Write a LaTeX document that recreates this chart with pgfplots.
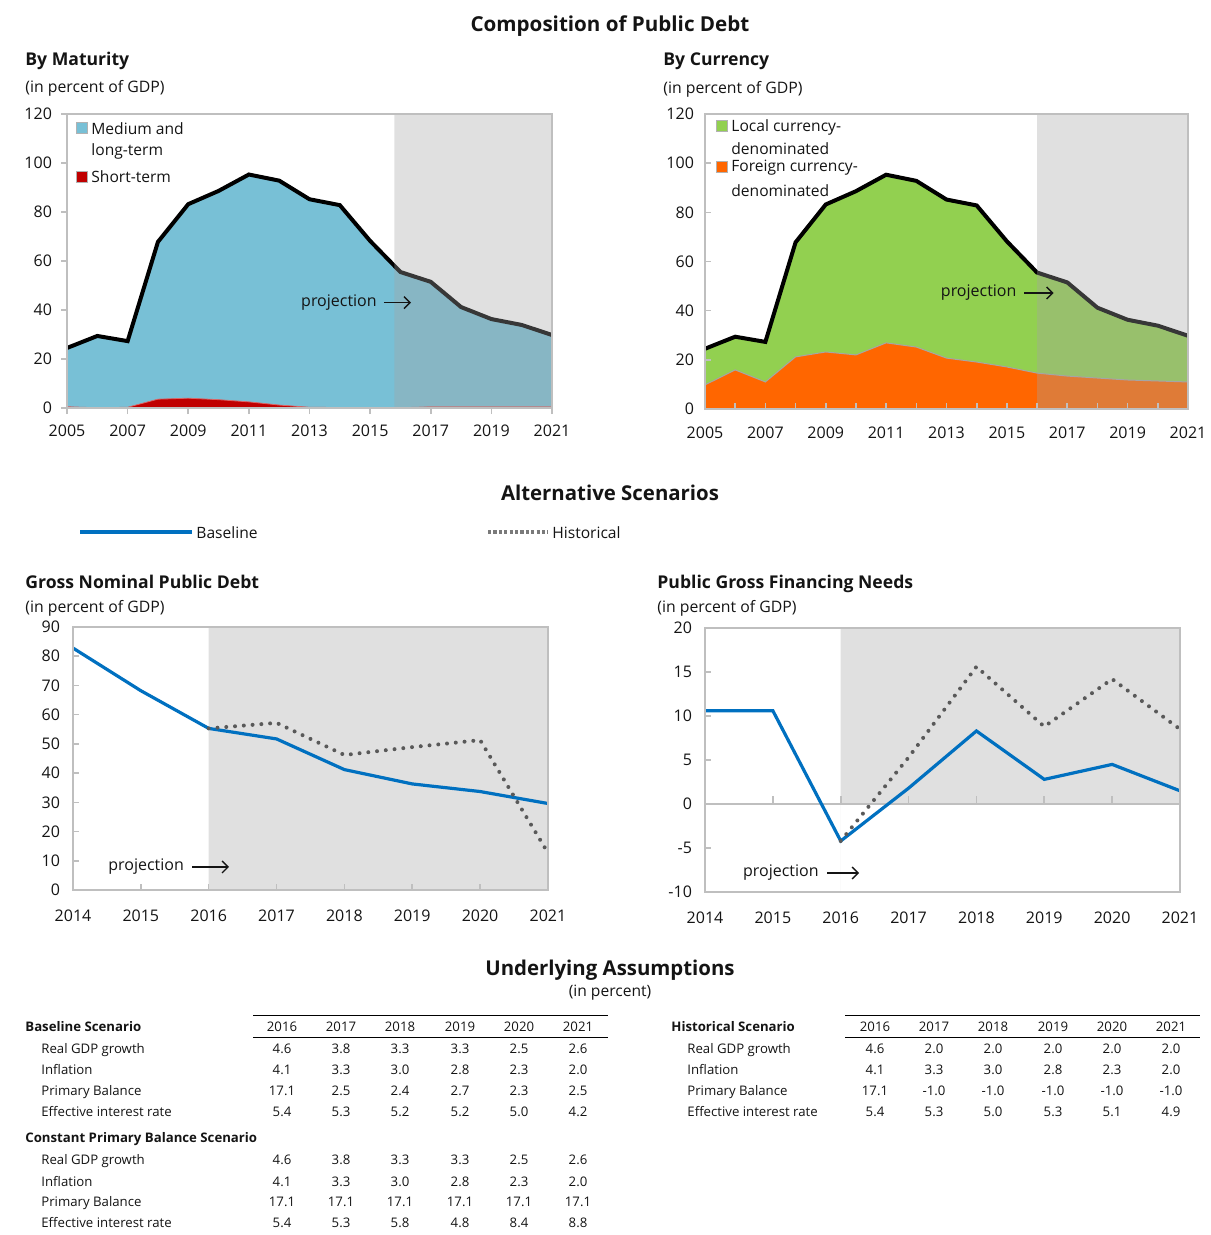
\documentclass[border=0pt]{standalone}
\usepackage{pgfplots}
\pgfplotsset{compat=1.18}
\usepackage{fontspec}
\setmainfont{Open Sans}
\usetikzlibrary{arrows.meta}

\definecolor{mlblue}{RGB}{120,192,214}
\definecolor{stred}{RGB}{192,0,0}
\definecolor{lcgreen}{RGB}{146,208,80}
\definecolor{fcorange}{RGB}{255,102,0}
\definecolor{ovgray}{RGB}{164,164,164}
\definecolor{projgray}{RGB}{224,224,224}
\definecolor{axgray}{RGB}{191,191,191}
\definecolor{baseblue}{RGB}{0,112,192}
\definecolor{histgray}{RGB}{89,89,89}
\definecolor{txt}{RGB}{20,20,20}

\pgfplotsset{
  myaxis/.style={
    scale only axis, anchor=south west,
    axis line style={draw=axgray, line width=1pt},
    tick style={draw=axgray, line width=0.8pt},
    major tick length=3pt,
    ticklabel style={font=\fontsize{8}{9}\selectfont, text=txt},
    /pgf/number format/assume math mode=true,
    /pgf/number format/1000 sep={},
    xtick pos=bottom, ytick pos=left,
    axis on top,
    clip=true,
  },
}
\newcommand\tf{\fontsize{6.6}{7.5}\selectfont}
\newcommand\lx{41}
\newcommand\cx{0}
\newcommand\trow[8]{%
  \node[anchor=base west, font=\tf, inner sep=0pt] at (\lx,#1) {#2};
  \node[anchor=base, font=\tf, inner sep=0pt] at ({\cx+282},#1) {#3};
  \node[anchor=base, font=\tf, inner sep=0pt] at ({\cx+341},#1) {#4};
  \node[anchor=base, font=\tf, inner sep=0pt] at ({\cx+400},#1) {#5};
  \node[anchor=base, font=\tf, inner sep=0pt] at ({\cx+460},#1) {#6};
  \node[anchor=base, font=\tf, inner sep=0pt] at ({\cx+519},#1) {#7};
  \node[anchor=base, font=\tf, inner sep=0pt] at ({\cx+578},#1) {#8};
}

\begin{document}
\begin{tikzpicture}
\useasboundingbox (0,0) rectangle (605pt,-617.5pt);

% ---------------- Panel 1: By Maturity
\begin{axis}[myaxis, at={(33.5pt,-204pt)}, width=242.5pt, height=147pt,
  xmin=2005, xmax=2021, ymin=0, ymax=120,
  xtick={2005,2007,...,2021}, ytick={0,20,...,120}, tick align=outside,
  xticklabel style={yshift=-2pt}, yticklabel style={xshift=-1pt}]
\addplot[fill=mlblue, draw=none] coordinates {
 (2005,24.5)(2006,29.4)(2007,27.3)(2008,67.8)(2009,83.2)(2010,88.6)(2011,95.3)(2012,92.8)
 (2013,85.2)(2014,82.8)(2015,68.2)(2016,55.5)(2017,51.5)(2018,41.2)(2019,36.3)(2020,33.9)(2021,29.8)} \closedcycle;
\addplot[fill=stred, draw=stred!60, line width=0.4pt] coordinates {
 (2005,0.5)(2006,0.1)(2007,0.3)(2008,3.6)(2009,4.0)(2010,3.4)(2011,2.5)(2012,1.2)
 (2013,0.3)(2014,0.2)(2015,0.2)(2016,0.1)(2017,0.5)(2018,0.5)(2019,0.5)(2020,0.5)(2021,0.5)} \closedcycle;
\addplot[black, line width=2pt] coordinates {
 (2005,24.5)(2006,29.4)(2007,27.3)(2008,67.8)(2009,83.2)(2010,88.6)(2011,95.3)(2012,92.8)
 (2013,85.2)(2014,82.8)(2015,68.2)(2016,55.5)(2017,51.5)(2018,41.2)(2019,36.3)(2020,33.9)(2021,29.8)};
\addplot[fill=ovgray, fill opacity=0.34, draw=none] coordinates {(2015.8,0)(2015.8,120)(2021,120)(2021,0)} \closedcycle;
\node[anchor=east, font=\fontsize{8}{9}\selectfont, text=txt, inner sep=0pt] at (axis cs:2015.23,43) {projection};
\draw[-{Straight Barb[length=3pt]}, line width=0.7pt, draw=txt] (axis cs:2015.45,43) -- (axis cs:2016.35,43);
\end{axis}

% ---------------- Panel 2: By Currency
\begin{axis}[myaxis, at={(352.5pt,-204.5pt)}, width=241.5pt, height=147.5pt,
  xmin=2005, xmax=2021, ymin=0, ymax=120,
  xtick={2005,2007,...,2021}, minor xtick={2006,2008,...,2020}, ytick={0,20,...,120}, tick align=inside,
  minor tick length=3pt,
  xticklabel style={yshift=-5.5pt}, yticklabel style={xshift=-2pt}]
\addplot[fill=lcgreen, draw=none] coordinates {
 (2005,24.5)(2006,29.4)(2007,27.3)(2008,67.8)(2009,83.2)(2010,88.6)(2011,95.3)(2012,92.8)
 (2013,85.2)(2014,82.8)(2015,68.2)(2016,55.5)(2017,51.5)(2018,41.2)(2019,36.3)(2020,33.9)(2021,29.8)} \closedcycle;
\addplot[fill=fcorange, draw=gray!70, line width=0.5pt] coordinates {
 (2005,9.8)(2006,15.9)(2007,11.0)(2008,21.2)(2009,23.2)(2010,22.0)(2011,26.9)(2012,25.2)
 (2013,20.7)(2014,19.1)(2015,17.1)(2016,14.6)(2017,13.4)(2018,12.6)(2019,11.8)(2020,11.4)(2021,11.0)} \closedcycle;
\addplot[black, line width=2pt] coordinates {
 (2005,24.5)(2006,29.4)(2007,27.3)(2008,67.8)(2009,83.2)(2010,88.6)(2011,95.3)(2012,92.8)
 (2013,85.2)(2014,82.8)(2015,68.2)(2016,55.5)(2017,51.5)(2018,41.2)(2019,36.3)(2020,33.9)(2021,29.8)};
\addplot[fill=ovgray, fill opacity=0.34, draw=none] coordinates {(2016,0)(2016,120)(2021,120)(2021,0)} \closedcycle;
\node[anchor=east, font=\fontsize{8}{9}\selectfont, text=txt, inner sep=0pt] at (axis cs:2015.33,47.2) {projection};
\draw[-{Straight Barb[length=3pt]}, line width=0.7pt, draw=txt] (axis cs:2015.57,47.2) -- (axis cs:2016.55,47.2);
\end{axis}

% ---------------- Panel 3: Gross Nominal Public Debt
\begin{axis}[myaxis, at={(36.5pt,-445pt)}, width=237.5pt, height=131.5pt,
  xmin=2014, xmax=2021, ymin=0, ymax=90,
  xtick={2014,...,2021}, ytick={0,10,...,90}, tick align=inside,
  xticklabel style={yshift=-6.5pt}, yticklabel style={xshift=-3pt}]
\addplot[fill=projgray, draw=none] coordinates {(2016,0)(2016,90)(2021,90)(2021,0)} \closedcycle;
\addplot[baseblue, line width=1.6pt] coordinates {
 (2014,82.8)(2015,68.2)(2016,55.3)(2017,51.7)(2018,41.2)(2019,36.3)(2020,33.7)(2021,29.6)};
\addplot[histgray, line width=2pt, line cap=round, dash pattern=on 0pt off 4.4pt] coordinates {
 (2016,55.3)(2017,57.2)(2018,46.2)(2019,48.9)(2020,51.3)(2021,12.7)};
\node[anchor=east, font=\fontsize{8}{9}\selectfont, text=txt, inner sep=0pt] at (axis cs:2015.64,7.9) {projection};
\draw[-{Straight Barb[length=3pt]}, line width=0.7pt, draw=txt] (axis cs:2015.76,7.9) -- (axis cs:2016.3,7.9);
\end{axis}

% ---------------- Panel 4: Public Gross Financing Needs
\begin{axis}[myaxis, at={(352.5pt,-446pt)}, width=237.5pt, height=132pt,
  xmin=2014, xmax=2021, ymin=-10, ymax=20,
  xtick={2014,...,2021}, ytick={-10,-5,...,20}, tick align=inside, xtick style={draw=none},
  xticklabel style={yshift=-6.5pt}, yticklabel style={xshift=-3pt}]
\addplot[fill=projgray, draw=none] coordinates {(2016,-10)(2016,20)(2021,20)(2021,-10)} \closedcycle;
\addplot[axgray, line width=1pt] coordinates {(2014,0)(2021,0)};
\pgfplotsinvokeforeach{2015,...,2020}{\draw[axgray, line width=0.8pt] (axis cs:#1,0) -- (axis cs:#1,0.9);}
\addplot[baseblue, line width=1.6pt] coordinates {
 (2014,10.6)(2015,10.6)(2016,-4.2)(2017,1.8)(2018,8.3)(2019,2.8)(2020,4.5)(2021,1.5)};
\addplot[histgray, line width=2pt, line cap=round, dash pattern=on 0pt off 4.4pt] coordinates {
 (2016,-4.2)(2017,5.3)(2018,15.6)(2019,8.8)(2020,14.2)(2021,8.5)};
\node[anchor=east, font=\fontsize{8}{9}\selectfont, text=txt, inner sep=0pt] at (axis cs:2015.68,-7.84) {projection};
\draw[-{Straight Barb[length=3pt]}, line width=0.7pt, draw=txt] (axis cs:2015.8,-7.84) -- (axis cs:2016.27,-7.84);
\end{axis}

% ---------------- Text, legends, tables (pixel coordinates)
\begin{scope}[x=0.5pt, y=-0.5pt, every node/.style={text=txt}]
\node[font=\bfseries\fontsize{10.3}{12}\selectfont] at (610,26) {Composition of Public Debt};
\node[anchor=west, font=\bfseries\fontsize{8.8}{10}\selectfont, inner sep=0pt] at (25,61) {By Maturity};
\node[anchor=west, font=\fontsize{7.9}{9}\selectfont, inner sep=0pt] at (25,88) {(in percent of GDP)};
\node[anchor=west, font=\bfseries\fontsize{8.8}{10}\selectfont, inner sep=0pt] at (663,61) {By Currency};
\node[anchor=west, font=\fontsize{7.9}{9}\selectfont, inner sep=0pt] at (663,89) {(in percent of GDP)};

% legend panel 1
\fill[mlblue, draw=gray!60, line width=0.4pt] (76,122) rectangle (87,133);
\node[anchor=west, font=\fontsize{7.8}{9}\selectfont, inner sep=0pt] at (91,129) {Medium and};
\node[anchor=west, font=\fontsize{7.8}{9}\selectfont, inner sep=0pt] at (91,151) {long-term};
\fill[stred, draw=gray!60, line width=0.4pt] (76,171) rectangle (87,182);
\node[anchor=west, font=\fontsize{7.8}{9}\selectfont, inner sep=0pt] at (91,177) {Short-term};
% legend panel 2
\fill[lcgreen, draw=gray!60, line width=0.4pt] (716,120) rectangle (727,131);
\node[anchor=west, font=\fontsize{7.8}{9}\selectfont, inner sep=0pt] at (731,127) {Local currency-};
\node[anchor=west, font=\fontsize{7.8}{9}\selectfont, inner sep=0pt] at (731,149) {denominated};
\fill[fcorange, draw=gray!60, line width=0.4pt] (716,161) rectangle (727,172);
\node[anchor=west, font=\fontsize{7.8}{9}\selectfont, inner sep=0pt] at (731,168) {Foreign currency-};
\node[anchor=west, font=\fontsize{7.8}{9}\selectfont, inner sep=0pt] at (731,191) {denominated};

\node[font=\bfseries\fontsize{10.2}{12}\selectfont] at (610,493) {Alternative Scenarios};
\draw[baseblue, line width=2pt] (80,532) -- (192,532);
\node[anchor=west, font=\fontsize{7.8}{9}\selectfont, inner sep=0pt] at (196,533) {Baseline};
\draw[histgray!80, line width=1.6pt, dash pattern=on 1.6pt off 1.1pt] (488,532) -- (548,532);
\node[anchor=west, font=\fontsize{7.8}{9}\selectfont, inner sep=0pt] at (552,533) {Historical};

\node[anchor=west, font=\bfseries\fontsize{8.8}{10}\selectfont, inner sep=0pt] at (25,582) {Gross Nominal Public Debt};
\node[anchor=west, font=\fontsize{7.9}{9}\selectfont, inner sep=0pt] at (25,608) {(in percent of GDP)};
\node[anchor=west, font=\bfseries\fontsize{8.8}{10}\selectfont, inner sep=0pt] at (657,584) {Public Gross Financing Needs};
\node[anchor=west, font=\fontsize{7.9}{9}\selectfont, inner sep=0pt] at (657,608) {(in percent of GDP)};

\node[font=\bfseries\fontsize{10.2}{12}\selectfont] at (610,970) {Underlying Assumptions};
\node[font=\fontsize{7.8}{9}\selectfont] at (610,993) {(in percent)};

% Baseline table
\draw[black, line width=0.5pt] (253,1015) -- (608,1015);
\draw[black, line width=0.5pt] (253,1037) -- (608,1037);
\node[anchor=base west, font=\bfseries\tf, inner sep=0pt] at (25,1031) {Baseline Scenario};
\renewcommand\lx{41}\renewcommand\cx{0}
\trow{1031}{}{2016}{2017}{2018}{2019}{2020}{2021}
\trow{1053}{Real GDP growth}{4.6}{3.8}{3.3}{3.3}{2.5}{2.6}
\trow{1074}{Inflation}{4.1}{3.3}{3.0}{2.8}{2.3}{2.0}
\trow{1095}{Primary Balance}{17.1}{2.5}{2.4}{2.7}{2.3}{2.5}
\trow{1116}{Effective interest rate}{5.4}{5.3}{5.2}{5.2}{5.0}{4.2}
\node[anchor=base west, font=\bfseries\tf, inner sep=0pt] at (25,1142) {Constant Primary Balance Scenario};
\trow{1164}{Real GDP growth}{4.6}{3.8}{3.3}{3.3}{2.5}{2.6}
\trow{1186}{Inflation}{4.1}{3.3}{3.0}{2.8}{2.3}{2.0}
\trow{1206}{Primary Balance}{17.1}{17.1}{17.1}{17.1}{17.1}{17.1}
\trow{1227}{Effective interest rate}{5.4}{5.3}{5.8}{4.8}{8.4}{8.8}

% Historical table
\draw[black, line width=0.5pt] (845,1015) -- (1200,1015);
\draw[black, line width=0.5pt] (845,1037) -- (1200,1037);
\node[anchor=base west, font=\bfseries\tf, inner sep=0pt] at (671,1031) {Historical Scenario};
\renewcommand\lx{687}\renewcommand\cx{593}
\trow{1031}{}{2016}{2017}{2018}{2019}{2020}{2021}
\trow{1053}{Real GDP growth}{4.6}{2.0}{2.0}{2.0}{2.0}{2.0}
\trow{1074}{Inflation}{4.1}{3.3}{3.0}{2.8}{2.3}{2.0}
\trow{1095}{Primary Balance}{17.1}{-1.0}{-1.0}{-1.0}{-1.0}{-1.0}
\trow{1116}{Effective interest rate}{5.4}{5.3}{5.0}{5.3}{5.1}{4.9}
\end{scope}
\end{tikzpicture}
\end{document}
